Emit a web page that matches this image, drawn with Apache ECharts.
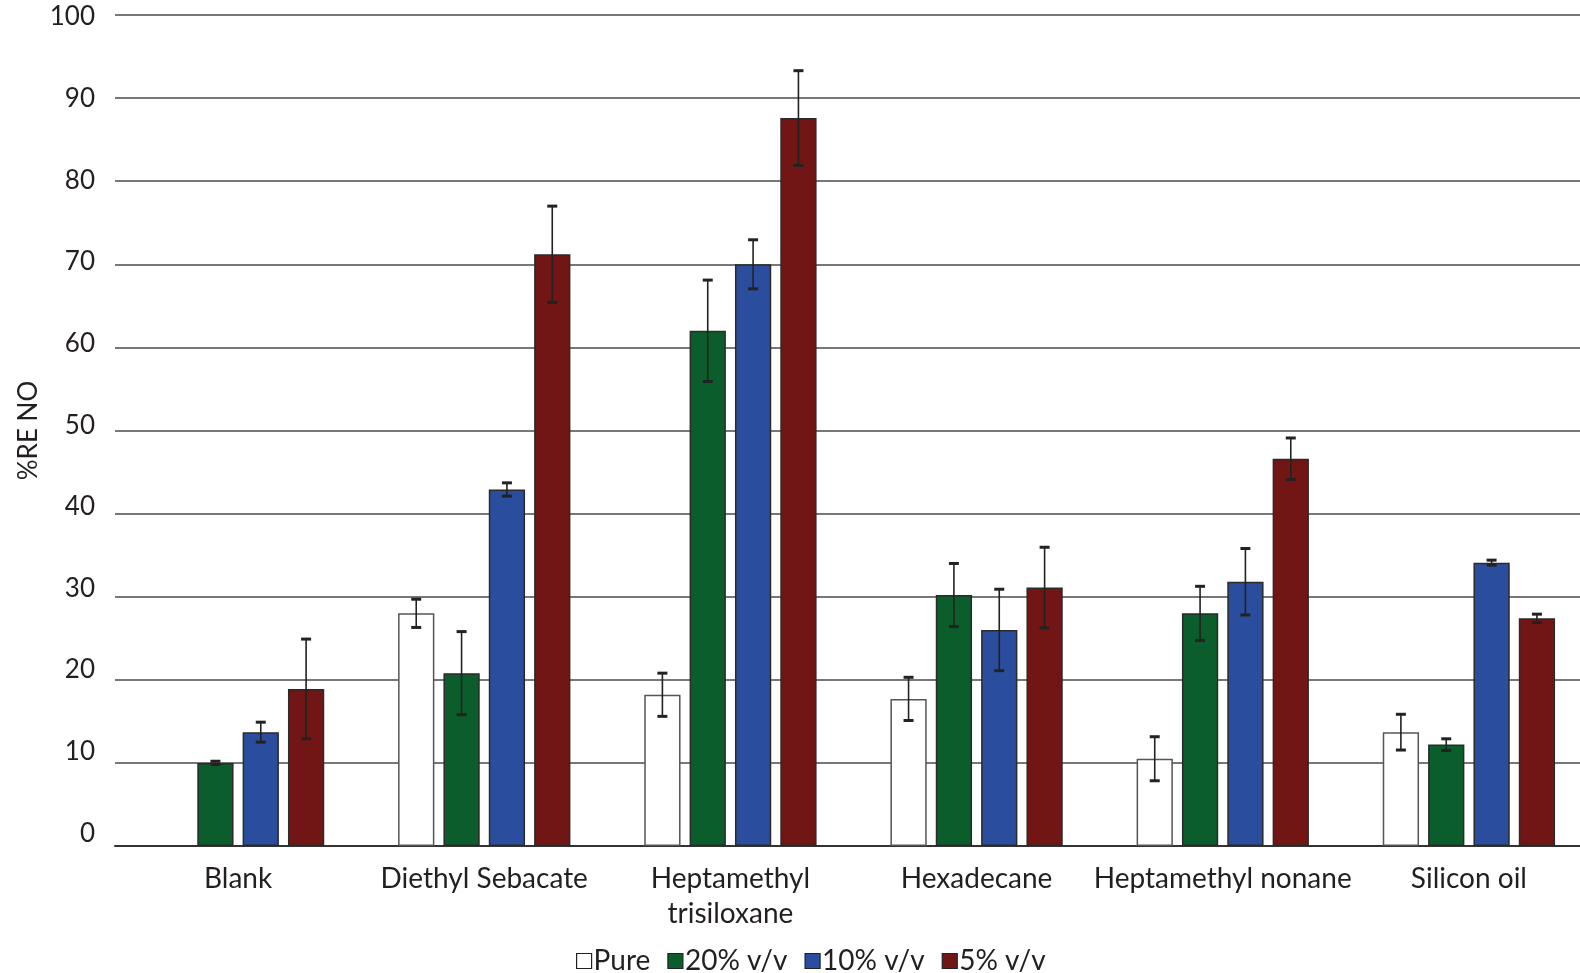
<!DOCTYPE html>
<html>
<head>
<meta charset="utf-8">
<script src="https://cdn.jsdelivr.net/npm/echarts@6/dist/echarts.min.js"></script>
<style>html,body{margin:0;padding:0;background:#fff;overflow:hidden}#c{width:1592px;height:973px}</style>
</head>
<body>
<div id="c"></div>
<script>
const categories = ['Blank', 'Diethyl Sebacate', 'Heptamethyl\ntrisiloxane', 'Hexadecane', 'Heptamethyl nonane', 'Silicon oil'];
const seriesNames = ['Pure', '20% v/v', '10% v/v', '5% v/v'];
const pureVals = [null, 28.0, 18.2, 17.7, 10.5, 13.7];
const pureErr  = [null, 1.7, 2.6, 2.6, 2.65, 2.15];
const v20Vals  = [10.0, 20.8, 62.0, 30.2, 28.0, 12.2];
const v20Err   = [0.2, 5.0, 6.1, 3.8, 3.25, 0.7];
const v10Vals  = [13.7, 42.9, 70.0, 26.0, 31.8, 34.1];
const v10Err   = [1.2, 0.8, 2.95, 4.9, 4.0, 0.3];
const v5Vals   = [18.9, 71.2, 87.6, 31.1, 46.6, 27.4];
const v5Err    = [6.0, 5.8, 5.7, 4.85, 2.5, 0.5];
const yTicks = [0, 10, 20, 30, 40, 50, 60, 70, 80, 90, 100];

const valsAll = [pureVals, v20Vals, v10Vals, v5Vals];
const errsAll = [pureErr, v20Err, v10Err, v5Err];
const colors = ['#ffffff', '#0b5e2b', '#2a4e9d', '#721515'];
const borders = ['#555555', '#2a2a2a', '#2a2a2a', '#2a2a2a'];
const FONT = 'Lato';
const TXT = '#231f20';
const CAT_GAP = 0.30, BAR_GAP = 0.25, N = 4;

const chart = echarts.init(document.getElementById('c'), null, {renderer: 'canvas'});

const series = [];
valsAll.forEach((vals, si) => {
  series.push({
    name: seriesNames[si],
    type: 'bar',
    yAxisIndex: 0,
    data: vals,
    barGap: (BAR_GAP * 100) + '%',
    barCategoryGap: (CAT_GAP * 100) + '%',
    itemStyle: {color: colors[si], borderColor: borders[si], borderWidth: 1.5},
    z: 2
  });
});
valsAll.forEach((vals, si) => {
  const data = [];
  vals.forEach((v, i) => { if (v != null) data.push([i, v, errsAll[si][i]]); });
  series.push({
    type: 'custom',
    yAxisIndex: 0,
    z: 5,
    silent: true,
    data: data,
    encode: {x: 0, y: 1},
    renderItem: function (params, api) {
      const catW = api.size([1, 0])[0];
      const bw = catW * (1 - CAT_GAP) / (N + (N - 1) * BAR_GAP);
      const cx = api.coord([api.value(0), 0])[0] - catW * (1 - CAT_GAP) / 2 + si * bw * (1 + BAR_GAP) + bw / 2;
      const v = api.value(1), e = api.value(2);
      const yt = api.coord([api.value(0), v + e])[1];
      const yb = api.coord([api.value(0), v - e])[1];
      const cap = 5;
      const st = {stroke: '#222', lineWidth: 1.6};
      const cs = {stroke: '#222', lineWidth: 3};
      return {
        type: 'group',
        children: [
          {type: 'line', shape: {x1: cx, y1: yt, x2: cx, y2: yb}, style: st},
          {type: 'line', shape: {x1: cx - cap, y1: yt, x2: cx + cap, y2: yt}, style: cs},
          {type: 'line', shape: {x1: cx - cap, y1: yb, x2: cx + cap, y2: yb}, style: cs}
        ]
      };
    }
  });
});

chart.setOption({
  animation: false,
  backgroundColor: '#ffffff',
  textStyle: {fontFamily: FONT},
  grid: {left: 115, right: 0, top: 15, bottom: 127, containLabel: false, outerBoundsMode: 'none'},
  legend: {
    top: 947,
    left: 576,
    padding: 0,
    itemWidth: 15,
    itemHeight: 15,
    itemGap: 17,
    icon: 'rect',
    textStyle: {fontFamily: FONT, fontSize: 28, color: TXT, padding: [0, 0, 0, -3]},
    data: seriesNames.map((n, i) => ({name: n, itemStyle: {color: colors[i], borderColor: '#222', borderWidth: 1.2}}))
  },
  xAxis: {
    type: 'category',
    data: categories,
    axisLine: {lineStyle: {color: '#333', width: 2}},
    axisTick: {show: false},
    axisLabel: {fontFamily: FONT, fontSize: 28, color: TXT, margin: 15, lineHeight: 35, interval: 0}
  },
  yAxis: [{
    type: 'value',
    min: yTicks[0],
    max: yTicks[yTicks.length - 1],
    interval: yTicks[1] - yTicks[0],
    name: '%RE NO',
    nameLocation: 'middle',
    nameGap: 73,
    nameRotate: 90,
    nameMoveOverlap: false,
    nameTextStyle: {fontFamily: FONT, fontSize: 26, color: TXT},
    axisLine: {show: false},
    axisTick: {show: false},
    axisLabel: {show: false},
    splitLine: {lineStyle: {color: '#4a4a4a', width: 1.5}}
  }, {
    type: 'value',
    position: 'left',
    min: -1.56,
    max: 100.25,
    axisLine: {show: false},
    axisTick: {show: false},
    splitLine: {show: false},
    axisLabel: {fontFamily: FONT, fontSize: 26, color: TXT, margin: 20, customValues: yTicks, showMinLabel: true, showMaxLabel: true}
  }],
  series: series
});
</script>
</body>
</html>
